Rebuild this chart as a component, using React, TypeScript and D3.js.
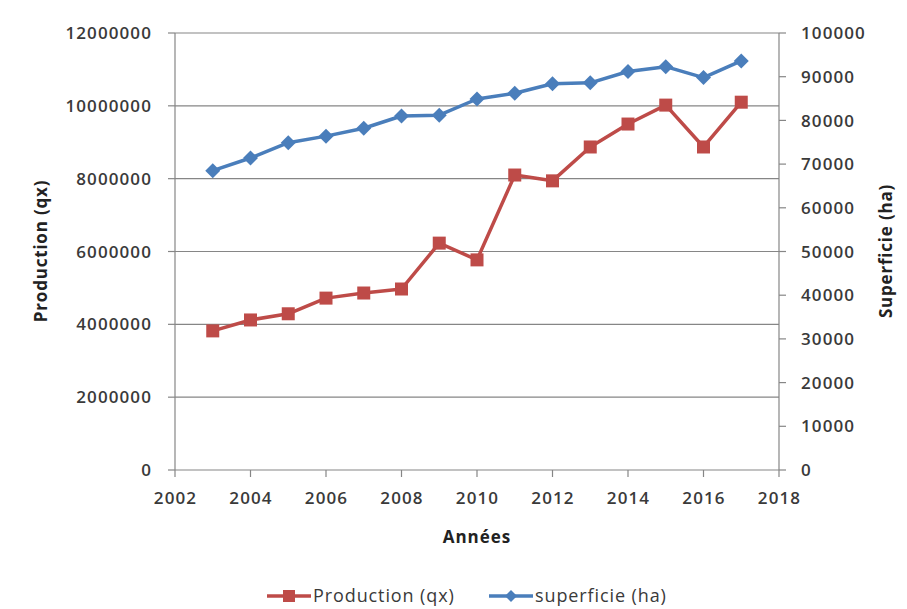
import React from "react";
import * as d3 from "d3";

const years = [2003, 2004, 2005, 2006, 2007, 2008, 2009, 2010, 2011, 2012, 2013, 2014, 2015, 2016, 2017];
const production = [3820000, 4120000, 4290000, 4720000, 4860000, 4970000, 6230000, 5770000, 8100000, 7940000, 8870000, 9500000, 10020000, 8870000, 10100000];
const superficie = [68500, 71400, 74900, 76400, 78200, 81000, 81200, 84900, 86200, 88400, 88600, 91200, 92300, 89800, 93600];
const xTicks = [2002, 2004, 2006, 2008, 2010, 2012, 2014, 2016, 2018];
const leftTicks = [0, 2000000, 4000000, 6000000, 8000000, 10000000, 12000000];
const rightTicks = [0, 10000, 20000, 30000, 40000, 50000, 60000, 70000, 80000, 90000, 100000];

const RED = "#BE4B48";
const BLUE = "#4A7EBB";
const AXIS = "#868686";
const TEXT = "#3a3a3a";
const FONT = "'Open Sans', 'Liberation Sans', sans-serif";

export default function App() {
  const x = d3.scaleLinear().domain([2002, 2018]).range([175, 779]);
  const yL = d3.scaleLinear().domain([0, 12000000]).range([470, 33]);
  const yR = d3.scaleLinear().domain([0, 100000]).range([470, 33]);

  const prodLine = d3.line<number>().x((_, i) => x(years[i])).y((d) => yL(d));
  const supLine = d3.line<number>().x((_, i) => x(years[i])).y((d) => yR(d));

  const sq = 13;
  const dm = 7.5;
  const tickFont = { fontSize: 17, letterSpacing: 1.1, fontWeight: 600 as const };

  return (
    <svg width={907} height={609} style={{ position: "absolute", left: 0, top: 0, background: "#fff" }} fontFamily={FONT}>
      {/* gridlines */}
      {leftTicks.map((t) => (
        <line key={"g" + t} x1={x(2002)} x2={x(2018)} y1={yL(t)} y2={yL(t)} stroke={AXIS} strokeWidth={1.2} />
      ))}
      {/* left axis */}
      <line x1={x(2002)} x2={x(2002)} y1={yL(0)} y2={yL(12000000)} stroke={AXIS} strokeWidth={1.2} />
      {leftTicks.map((t) => (
        <g key={"l" + t}>
          <line x1={x(2002) - 7} x2={x(2002)} y1={yL(t)} y2={yL(t)} stroke={AXIS} strokeWidth={1.2} />
          <text x={152} y={yL(t)} dy="0.36em" textAnchor="end" {...tickFont} fill={TEXT}>{t}</text>
        </g>
      ))}
      {/* right axis */}
      <line x1={x(2018)} x2={x(2018)} y1={yR(0)} y2={yR(100000)} stroke={AXIS} strokeWidth={1.2} />
      {rightTicks.map((t) => (
        <g key={"r" + t}>
          <line x1={x(2018)} x2={x(2018) + 7} y1={yR(t)} y2={yR(t)} stroke={AXIS} strokeWidth={1.2} />
          <text x={801} y={yR(t)} dy="0.36em" textAnchor="start" {...tickFont} fill={TEXT}>{t}</text>
        </g>
      ))}
      {/* x axis ticks */}
      {xTicks.map((t) => (
        <g key={"x" + t}>
          <line x1={x(t)} x2={x(t)} y1={470} y2={477} stroke={AXIS} strokeWidth={1.2} />
          <text x={x(t) + 0.5} y={504} textAnchor="middle" {...tickFont} fill={TEXT}>{t}</text>
        </g>
      ))}
      {/* axis titles */}
      <text x={477} y={543} textAnchor="middle" fontSize={17} letterSpacing={1} fontWeight="bold" fill="#222">Années</text>
      <text transform="translate(47,251) rotate(-90)" textAnchor="middle" fontSize={17} letterSpacing={0.8} fontWeight="bold" fill="#222">Production (qx)</text>
      <text transform="translate(892,251) rotate(-90)" textAnchor="middle" fontSize={17} letterSpacing={0.8} fontWeight="bold" fill="#222">Superficie (ha)</text>

      {/* series */}
      <path d={supLine(superficie) || ""} fill="none" stroke={BLUE} strokeWidth={3.5} strokeLinejoin="round" />
      {superficie.map((v, i) => {
        const cx = x(years[i]);
        const cy = yR(v);
        return <path key={"d" + i} d={`M${cx},${cy - dm}L${cx + dm},${cy}L${cx},${cy + dm}L${cx - dm},${cy}Z`} fill={BLUE} />;
      })}
      <path d={prodLine(production) || ""} fill="none" stroke={RED} strokeWidth={3.5} strokeLinejoin="round" />
      {production.map((v, i) => (
        <rect key={"s" + i} x={x(years[i]) - sq / 2} y={yL(v) - sq / 2} width={sq} height={sq} fill={RED} />
      ))}

      {/* legend */}
      <line x1={267} x2={311} y1={596} y2={596} stroke={RED} strokeWidth={3.5} />
      <rect x={289 - 6} y={596 - 6} width={12} height={12} fill={RED} />
      <text x={313} y={596} dy="0.36em" fontSize={18} letterSpacing={0.9} fill={TEXT}>Production (qx)</text>
      <line x1={489} x2={533} y1={596} y2={596} stroke={BLUE} strokeWidth={3.5} />
      <path d={`M511,${596 - 6}L517,596L511,${596 + 6}L505,596Z`} fill={BLUE} />
      <text x={535} y={596} dy="0.36em" fontSize={18} letterSpacing={0.9} fill={TEXT}>superficie (ha)</text>
    </svg>
  );
}
